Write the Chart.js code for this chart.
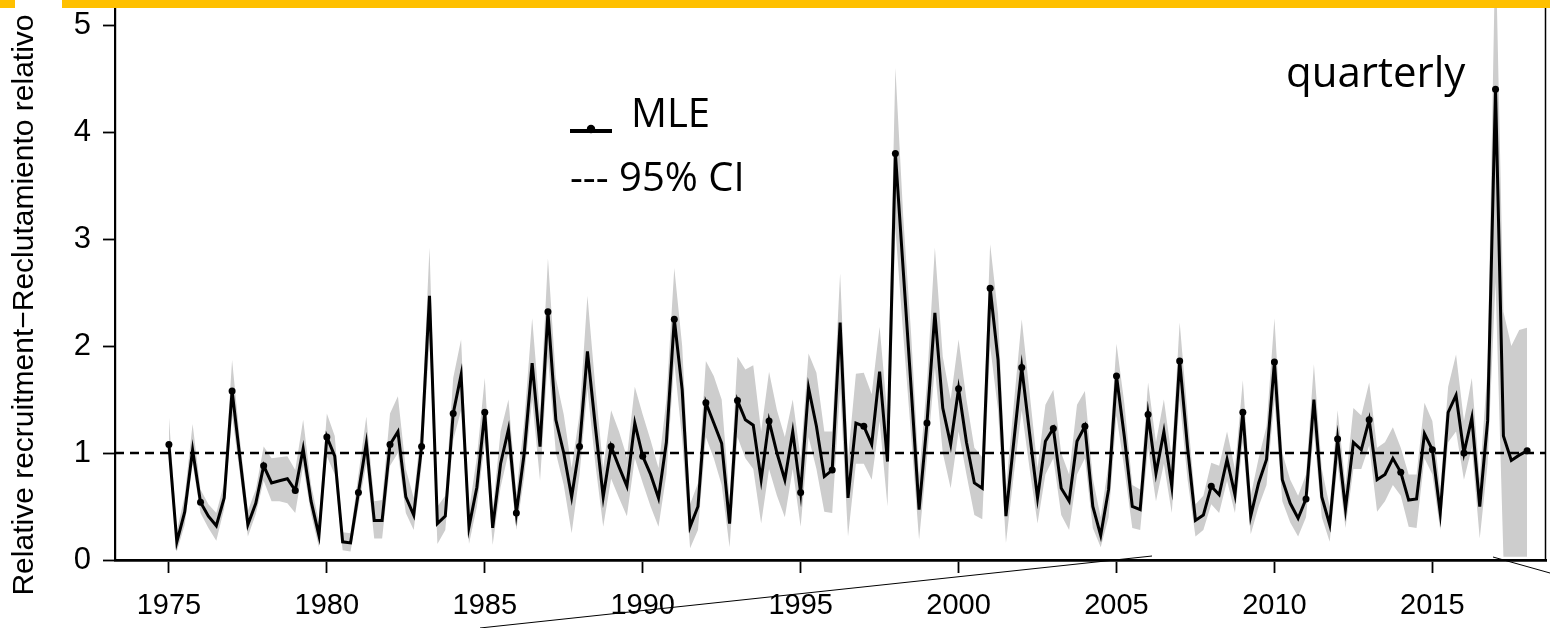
<!DOCTYPE html>
<html><head><meta charset="utf-8">
<script src="https://cdn.jsdelivr.net/npm/chart.js@4.4.1/dist/chart.umd.min.js"></script>
<style>html,body{margin:0;padding:0;background:#fff;overflow:hidden}#wrap{position:relative;width:1550px;height:628px}</style>
</head><body><div id="wrap"><canvas id="c" width="1550" height="628"></canvas></div>
<script>
// ---- data (quarterly, 1975 Q1 .. 2018 Q1) ----
const startYear = 1975;
const quarterStep = 0.25;
const mle = [
1.08,0.17,0.45,1.03, 0.54,0.41,0.32,0.58, 1.58,0.95,0.33,0.53, 0.88,0.72,0.74,0.76, 0.65,1.04,0.55,0.23,
1.15,0.97,0.17,0.16, 0.63,1.09,0.37,0.37, 1.08,1.20,0.59,0.42, 1.06,2.47,0.34,0.41, 1.37,1.73,0.31,0.68,
1.38,0.30,0.90,1.22, 0.44,1.00,1.84,1.06, 2.32,1.31,1.00,0.59, 1.06,1.95,1.25,0.59, 1.06,0.87,0.69,1.28,
0.97,0.80,0.58,1.10, 2.25,1.59,0.31,0.50, 1.47,1.28,1.09,0.34, 1.49,1.31,1.26,0.75, 1.30,1.00,0.75,1.20,
0.63,1.61,1.25,0.78, 0.84,2.22,0.58,1.28, 1.25,1.08,1.76,0.92, 3.80,2.70,1.60,0.47, 1.28,2.31,1.42,1.08,
1.60,1.10,0.72,0.67, 2.54,1.87,0.41,1.11, 1.80,1.18,0.58,1.11, 1.23,0.67,0.55,1.11, 1.25,0.50,0.23,0.66,
1.72,1.15,0.50,0.47, 1.36,0.81,1.20,0.69, 1.86,1.05,0.37,0.42, 0.69,0.61,0.94,0.61, 1.38,0.41,0.72,0.94,
1.85,0.75,0.53,0.39, 0.57,1.50,0.59,0.33, 1.13,0.48,1.10,1.03, 1.31,0.75,0.80,0.95, 0.82,0.56,0.57,1.18,
1.03,0.44,1.38,1.54, 1.00,1.33,0.50,1.30, 4.40,1.16,0.93,0.98, 1.02
];
const ciLower = [
0.95,0.08,0.33,0.90, 0.44,0.30,0.18,0.48, 1.35,0.80,0.22,0.43, 0.74,0.55,0.55,0.53, 0.44,0.88,0.43,0.12,
0.97,0.80,0.09,0.08, 0.50,0.90,0.20,0.20, 0.88,1.00,0.44,0.28, 0.88,2.05,0.15,0.28, 1.12,1.40,0.15,0.50,
1.10,0.14,0.68,1.00, 0.28,0.78,1.50,0.74, 1.90,1.00,0.70,0.25, 0.80,1.60,0.90,0.31, 0.76,0.58,0.41,0.95,
0.72,0.50,0.31,0.80, 1.85,1.12,0.11,0.28, 1.15,0.95,0.70,0.12, 1.15,0.95,0.85,0.34, 0.85,0.60,0.40,0.85,
0.31,1.15,0.85,0.45, 0.44,1.60,0.22,0.90, 0.90,0.75,1.30,0.50, 3.10,2.10,1.15,0.19, 0.95,1.80,1.00,0.67,
1.20,0.80,0.42,0.38, 2.00,1.40,0.16,0.80, 1.40,0.85,0.34,0.80, 0.95,0.42,0.28,0.80, 0.95,0.30,0.12,0.40,
1.35,0.85,0.30,0.28, 1.05,0.55,0.90,0.44, 1.50,0.75,0.22,0.28, 0.52,0.44,0.74,0.44, 1.10,0.24,0.50,0.70,
1.50,0.55,0.35,0.22, 0.40,1.20,0.40,0.17, 0.90,0.30,0.85,0.85, 1.07,0.45,0.55,0.70, 0.60,0.31,0.30,0.95,
0.80,0.28,1.10,1.20, 0.75,1.05,0.20,0.90, 2.60,0.03,0.03,0.03, 0.03
];
const ciUpper = [
1.34,0.27,0.60,1.27, 0.66,0.52,0.44,0.72, 1.87,1.12,0.46,0.66, 1.06,0.95,0.96,0.97, 0.84,1.31,0.70,0.36,
1.37,1.16,0.26,0.25, 0.80,1.34,0.55,0.56, 1.37,1.53,0.85,0.58, 1.28,2.92,0.50,0.60, 1.70,2.06,0.46,0.96,
1.70,0.45,1.20,1.50, 0.62,1.30,2.26,1.36, 2.82,1.70,1.36,0.86, 1.36,2.47,1.62,0.86, 1.40,1.20,0.96,1.62,
1.36,1.12,0.86,1.50, 2.73,2.00,0.52,0.72, 1.86,1.72,1.50,0.56, 1.90,1.78,1.82,1.20, 1.76,1.40,1.15,1.50,
0.95,1.93,1.75,1.20, 1.20,2.68,0.95,1.74, 1.75,1.55,2.18,1.35, 4.60,3.20,2.10,0.78, 1.66,2.92,1.90,1.50,
2.06,1.50,1.05,0.96, 2.95,2.30,0.66,1.46, 2.25,1.56,0.86,1.45, 1.59,1.00,0.80,1.45, 1.58,0.76,0.40,0.90,
2.02,1.46,0.70,0.66, 1.66,1.10,1.50,0.96, 2.22,1.36,0.52,0.60, 0.91,0.88,1.20,0.85, 1.68,0.60,0.95,1.25,
2.26,1.00,0.75,0.60, 0.80,1.83,0.85,0.50, 1.40,0.70,1.42,1.35, 1.66,1.05,1.10,1.24, 1.05,0.80,0.80,1.47,
1.30,0.66,1.62,1.92, 1.30,1.70,0.76,1.80, 5.80,2.32,2.00,2.15, 2.17
];
const xTicks = [1975, 1980, 1985, 1990, 1995, 2000, 2005, 2010, 2015];
const yTicks = [0, 1, 2, 3, 4, 5];
const refLevel = 1;
const yTitle = 'Relative recruitment\u2212Reclutamiento relativo';
const legendLabels = ['MLE', '--- 95% CI'];
const panelLabel = 'quarterly';

// ---- build ----
const xMin = 1973.293, xMax = 2018.598, yMin = 0, yMax = 5.159;
const times = mle.map((_, i) => startYear + i * quarterStep);
const pts = arr => arr.map((v, i) => ({x: times[i], y: v}));

const decor = {
  id: 'decor',
  afterDraw(chart) {
    const c = chart.ctx, a = chart.chartArea;
    c.save();
    // right frame
    c.strokeStyle = '#000'; c.lineWidth = 1.5;
    c.beginPath(); c.moveTo(a.right - 0.5, a.top); c.lineTo(a.right - 0.5, a.bottom); c.stroke();
    // y title
    c.fillStyle = '#000';
    c.font = '30px "Liberation Sans", Arial, sans-serif';
    c.textAlign = 'center'; c.textBaseline = 'middle';
    c.translate(25, 305); c.rotate(-Math.PI / 2);
    c.fillText(yTitle, 0, 0);
    c.restore();

    c.save();
    // legend
    c.strokeStyle = '#000'; c.lineWidth = 4;
    c.beginPath(); c.moveTo(570, 131); c.lineTo(612, 131); c.stroke();
    c.fillStyle = '#000';
    c.beginPath(); c.arc(591, 129, 4.2, 0, Math.PI * 2); c.fill();
    c.font = '40px "Open Sans", sans-serif';
    c.textAlign = 'left'; c.textBaseline = 'alphabetic';
    c.fillText(legendLabels[0], 631, 127);
    c.fillText(legendLabels[1], 570, 191);
    c.font = '42px "Open Sans", sans-serif';
    c.fillText(panelLabel, 1286, 87);
    // callout lines
    c.lineWidth = 1; c.strokeStyle = '#000';
    c.beginPath(); c.moveTo(480, 628); c.lineTo(1152, 556); c.stroke();
    c.beginPath(); c.moveTo(1493, 557); c.lineTo(1550, 573); c.stroke();
    // top bar
    c.fillStyle = '#FFC000'; c.fillRect(0, 0, 1550, 8);
    c.fillStyle = '#FFFFFF'; c.fillRect(15, 0, 47, 8);
    c.restore();
  }
};

new Chart(document.getElementById('c'), {
  type: 'line',
  data: { datasets: [
    { label: 'MLE', data: pts(mle), borderColor: '#000', borderWidth: 3, tension: 0, fill: false,
      pointRadius: ctx => (ctx.dataIndex % 4 === 0 ? 3.5 : 0), pointBackgroundColor: '#000',
      pointBorderColor: '#000', pointBorderWidth: 0, order: 0 },
    { label: 'ref', data: [{x: xMin, y: refLevel}, {x: xMax, y: refLevel}], borderColor: '#000',
      borderWidth: 2.4, borderDash: [9, 6], pointRadius: 0, fill: false, order: 1 },
    { label: '95% CI upper', data: pts(ciUpper), borderColor: 'rgba(0,0,0,0)', borderWidth: 1,
      backgroundColor: '#cdcdcd', fill: '+1', pointRadius: 0, tension: 0, order: 2 },
    { label: '95% CI lower', data: pts(ciLower), borderColor: 'rgba(0,0,0,0)', borderWidth: 1,
      fill: false, pointRadius: 0, tension: 0, order: 3 }
  ]},
  options: {
    responsive: false, animation: false, devicePixelRatio: 1,
    layout: { padding: { left: 0, right: 2, top: 8, bottom: 0 } },
    plugins: { legend: { display: false }, tooltip: { enabled: false } },
    scales: {
      x: { type: 'linear', min: xMin, max: xMax,
        afterBuildTicks: s => { s.ticks = xTicks.map(v => ({value: v})); },
        afterFit: s => { s.height = 68; s.paddingLeft = 0; s.paddingRight = 0; },
        grid: { drawOnChartArea: false, drawTicks: true, tickLength: 13, tickWidth: 1.8, tickColor: '#000' },
        border: { display: true, color: '#000', width: 2.8 },
        ticks: { color: '#000', font: { family: '"Liberation Sans", Arial, sans-serif', size: 29 },
          padding: 16, maxRotation: 0, autoSkip: false, callback: v => String(v) } },
      y: { type: 'linear', min: yMin, max: yMax,
        afterBuildTicks: s => { s.ticks = yTicks.map(v => ({value: v})); },
        afterFit: s => { s.width = 115; s.paddingTop = 0; s.paddingBottom = 0; },
        grid: { drawOnChartArea: false, drawTicks: true, tickLength: 12, tickWidth: 1.8, tickColor: '#000' },
        border: { display: true, color: '#000', width: 2.2 },
        ticks: { color: '#000', font: { family: '"Liberation Sans", Arial, sans-serif', size: 31 },
          padding: 12, callback: v => String(v) } }
    }
  },
  plugins: [decor]
});
</script></body></html>
